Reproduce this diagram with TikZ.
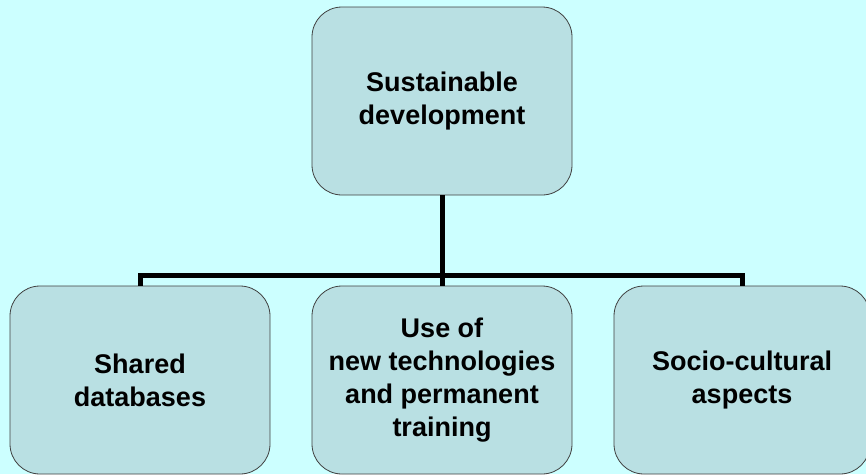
\documentclass[tikz,border=0pt]{standalone}
\usepackage{fontspec}
\setmainfont{Liberation Sans}
\definecolor{bg}{HTML}{CCFFFF}
\definecolor{boxfill}{HTML}{B9E0E3}
\definecolor{boxline}{HTML}{404040}
\begin{document}
\begin{tikzpicture}[x=1pt,y=-1pt,
  card/.style={draw=boxline, line width=0.8pt, fill=boxfill, rounded corners=30pt,
    minimum width=260pt, minimum height=188pt, align=center, inner sep=0pt,
    font=\bfseries\fontsize{27}{33}\selectfont},
  link/.style={line width=5pt, draw=black}]
\useasboundingbox (0,0) rectangle (866,474);
\fill[bg] (0,0) rectangle (866,474);
\clip (0,0) rectangle (866,474);
\node[card] (top) at (442,101) {Sustainable\\development};
\node[card] (left) at (140,380) {Shared\\databases};
\node[card] (mid) at (442,380) {Use of\\new technologies\\and permanent\\training};
\node[card, minimum width=256pt] (right) at (742,380) {Socio-cultural\\aspects};
\coordinate (j) at (442,275);
\draw[link] (top.south) -- (mid.north);
\draw[link] (left.north) |- (j) -| (right.north);
\end{tikzpicture}
\end{document}
